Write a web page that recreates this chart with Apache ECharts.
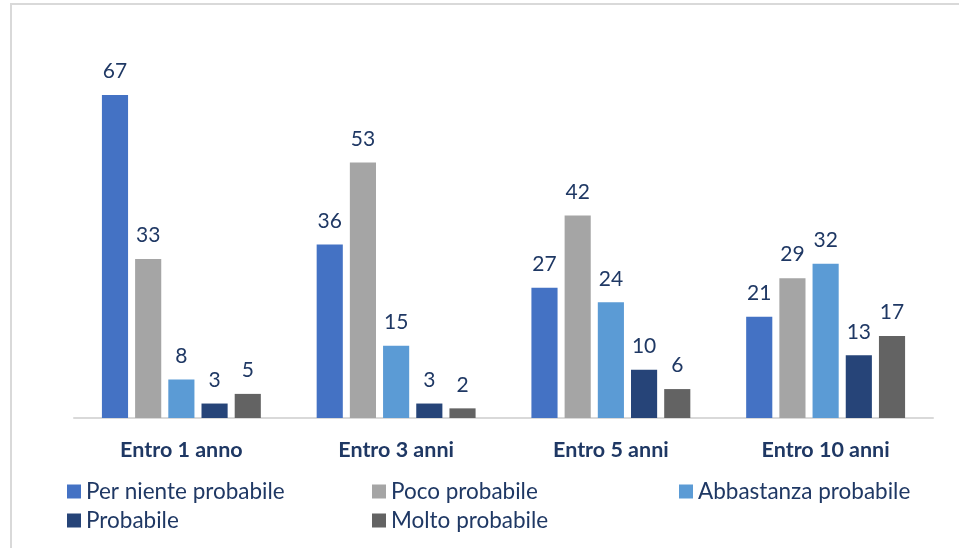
<!DOCTYPE html>
<html><head><meta charset="utf-8">
<script src="https://cdn.jsdelivr.net/npm/echarts@6/dist/echarts.min.js"></script>
<style>html,body{margin:0;padding:0;background:#fff}#c{width:959px;height:548px;position:relative}
#b{position:absolute;left:10px;top:3px;right:-5px;bottom:-5px;border:2px solid #D9D9D9;pointer-events:none}</style>
</head><body><div id="c"></div><div id="b"></div>
<script>
const categories = ['Entro 1 anno', 'Entro 3 anni', 'Entro 5 anni', 'Entro 10 anni'];
const seriesNames = ['Per niente probabile', 'Poco probabile', 'Abbastanza probabile', 'Probabile', 'Molto probabile'];
const perNiente = [67, 36, 27, 21];
const poco = [33, 53, 42, 29];
const abbastanza = [8, 15, 24, 32];
const probabile = [3, 3, 10, 13];
const molto = [5, 2, 6, 17];
const colors = ['#4472C4', '#A5A5A5', '#5B9BD5', '#264478', '#636363'];
const values = [perNiente, poco, abbastanza, probabile, molto];
const font = 'Lato, "Open Sans", sans-serif';
const navy = '#1F3864';
const chart = echarts.init(document.getElementById('c'));
const legendBase = {orient: 'vertical', itemWidth: 14, itemHeight: 14, itemGap: 6, icon: 'rect',
  textStyle: {fontFamily: font, fontSize: 22.5, color: navy, padding: [0,0,0,0]}, top: 475};
chart.setOption({
  animation: false,
  color: colors,
  legend: [
    Object.assign({}, legendBase, {left: 62, data: [seriesNames[0], seriesNames[3]]}),
    Object.assign({}, legendBase, {left: 367, data: [seriesNames[1], seriesNames[4]]}),
    Object.assign({}, legendBase, {left: 674, data: [seriesNames[2]]})
  ],
  grid: {left: 74, right: 26, top: 80.5, bottom: 130, containLabel: false},
  xAxis: {type: 'category', data: categories,
    axisLine: {lineStyle: {color: '#D9D9D9', width: 2}}, axisTick: {show: false},
    axisLabel: {margin: 21, fontFamily: font, fontSize: 21.5, fontWeight: 'bold', color: navy}},
  yAxis: {type: 'value', min: 0, max: 70, show: false, splitLine: {show: false}},
  series: seriesNames.map((n, i) => ({
    name: n, type: 'bar', data: values[i], barGap: '27%', barCategoryGap: '26%',
    label: {show: true, position: 'top', distance: 13, fontFamily: font, fontSize: 21, color: navy}
  }))
});
</script></body></html>
